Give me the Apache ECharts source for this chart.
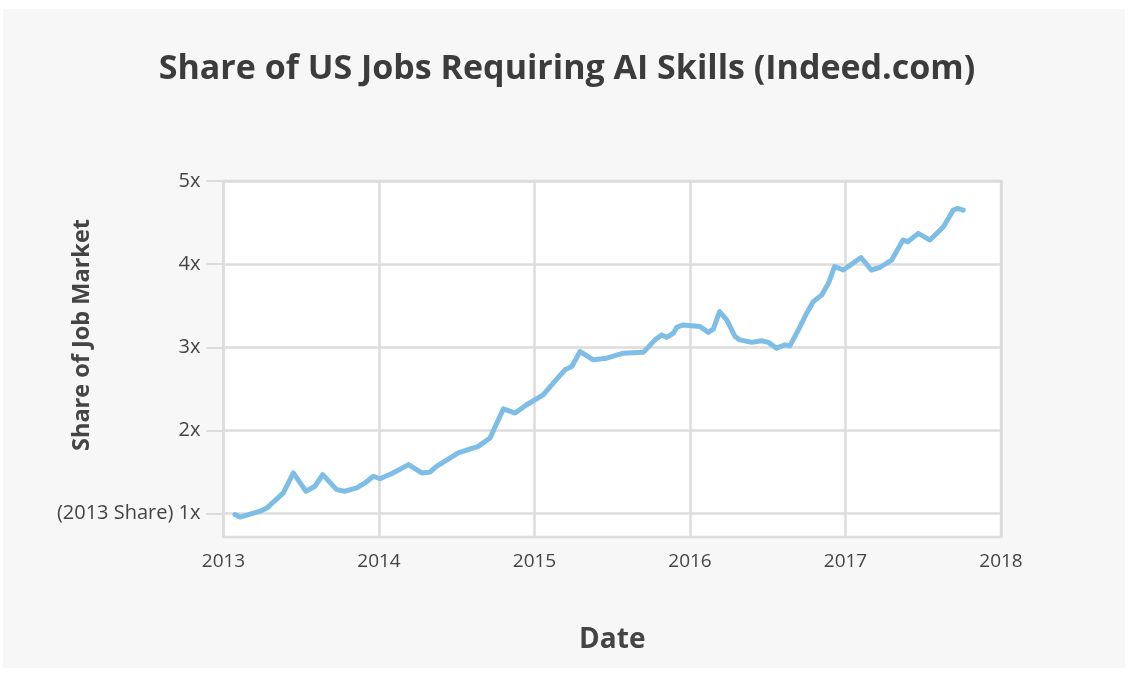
<!DOCTYPE html>
<html>
<head>
<meta charset="utf-8">
<title>Share of US Jobs Requiring AI Skills (Indeed.com)</title>
<script src="https://cdn.jsdelivr.net/npm/echarts@6/dist/echarts.min.js"></script>
<style>
  html, body { margin: 0; padding: 0; background: #ffffff; }
  #panel { position: absolute; left: 3px; top: 9px; width: 1122px; height: 659px; background: #f7f7f7; }
  #chart { position: absolute; left: 0; top: 0; width: 1134px; height: 675px; }
</style>
</head>
<body>
<div id="panel"></div>
<div id="chart"></div>
<script>
// Posting dates as decimal years
const yearPositions = [
  2013.074, 2013.106, 2013.235, 2013.280, 2013.385, 2013.449, 2013.530, 2013.588,
  2013.638, 2013.728, 2013.780, 2013.857, 2013.910, 2013.963, 2014.006, 2014.090,
  2014.190, 2014.275, 2014.328, 2014.370, 2014.510, 2014.638, 2014.714, 2014.800,
  2014.875, 2014.950, 2015.056, 2015.130, 2015.196, 2015.240, 2015.293, 2015.378,
  2015.464, 2015.571, 2015.700, 2015.775, 2015.818, 2015.850, 2015.893, 2015.914,
  2015.957, 2016.064, 2016.118, 2016.150, 2016.190, 2016.236, 2016.290, 2016.320,
  2016.397, 2016.460, 2016.504, 2016.557, 2016.610, 2016.643, 2016.697, 2016.750,
  2016.793, 2016.847, 2016.890, 2016.930, 2016.986, 2017.100, 2017.166, 2017.220,
  2017.297, 2017.370, 2017.400, 2017.468, 2017.543, 2017.630, 2017.693, 2017.720,
  2017.757
];

// Share of job postings requiring AI skills, relative to the 2013 share
const shareValues = [
  0.99, 0.96, 1.03, 1.07, 1.25, 1.49, 1.27, 1.33,
  1.47, 1.29, 1.27, 1.31, 1.37, 1.45, 1.42, 1.49,
  1.59, 1.49, 1.50, 1.57, 1.73, 1.81, 1.91, 2.26,
  2.21, 2.31, 2.43, 2.59, 2.73, 2.77, 2.95, 2.85,
  2.87, 2.93, 2.94, 3.09, 3.15, 3.12, 3.17, 3.24,
  3.27, 3.25, 3.18, 3.22, 3.43, 3.33, 3.13, 3.09,
  3.06, 3.08, 3.06, 2.99, 3.03, 3.02, 3.21, 3.41,
  3.55, 3.63, 3.77, 3.97, 3.93, 4.08, 3.93, 3.96,
  4.05, 4.29, 4.27, 4.37, 4.29, 4.45, 4.65, 4.67,
  4.65
];

const yTickValues = [1, 2, 3, 4, 5];
const yTickLabels = ['(2013 Share) 1x', '2x', '3x', '4x', '5x'];

const chartTitle = 'Share of US Jobs Requiring AI Skills (Indeed.com)';
const xAxisTitle = 'Date';
const yAxisTitle = 'Share of Job Market';

const gridColor = '#dcdcdc';
const textColor = '#444444';
const fontFamily = '"Open Sans", Lato, sans-serif';

const chart = echarts.init(document.getElementById('chart'), null, { renderer: 'canvas' });

chart.setOption({
  backgroundColor: 'transparent',
  animation: false,
  title: {
    text: chartTitle,
    left: 'center',
    top: 47,
    textStyle: { fontFamily: fontFamily, fontSize: 34, fontWeight: 'bold', color: '#3c3c3c' }
  },
  graphic: [{
    type: 'text',
    x: 82,
    y: 335,
    rotation: Math.PI / 2,
    style: {
      text: yAxisTitle,
      fontFamily: fontFamily,
      fontSize: 23.5,
      fontWeight: 'bold',
      fill: textColor,
      align: 'center',
      verticalAlign: 'middle'
    }
  }],
  grid: {
    left: 223.5,
    right: 133,
    top: 181,
    bottom: 138,
    show: true,
    backgroundColor: '#ffffff',
    borderColor: gridColor,
    borderWidth: 2.5
  },
  xAxis: {
    type: 'value',
    min: 2013,
    max: 2018,
    interval: 1,
    name: xAxisTitle,
    nameLocation: 'middle',
    nameGap: 89,
    nameTextStyle: { fontFamily: fontFamily, fontSize: 28, fontWeight: 'bold', color: textColor },
    axisLine: { show: false },
    axisTick: { show: false },
    axisLabel: {
      margin: 15,
      fontFamily: fontFamily,
      fontSize: 19,
      color: textColor,
      formatter: function (v) { return String(Math.round(v)); }
    },
    splitLine: { show: true, lineStyle: { color: gridColor, width: 2.5 } }
  },
  yAxis: {
    type: 'value',
    min: 0.72,
    max: 5,
    axisLine: { show: false },
    axisTick: {
      show: true,
      length: 17,
      customValues: yTickValues,
      lineStyle: { color: gridColor, width: 2 }
    },
    axisLabel: {
      margin: 23,
      customValues: yTickValues,
      fontFamily: fontFamily,
      fontSize: 20,
      color: textColor,
      formatter: function (v) {
        const i = yTickValues.indexOf(Math.round(v));
        return i >= 0 ? yTickLabels[i] : '';
      }
    },
    splitLine: { show: true, lineStyle: { color: gridColor, width: 2.5 } }
  },
  series: [{
    type: 'line',
    data: yearPositions.map(function (x, i) { return [x, shareValues[i]]; }),
    showSymbol: false,
    smooth: false,
    lineStyle: { color: '#7dbde6', width: 5, join: 'round', cap: 'round' },
    itemStyle: { color: '#7dbde6' }
  }]
});
</script>
</body>
</html>
